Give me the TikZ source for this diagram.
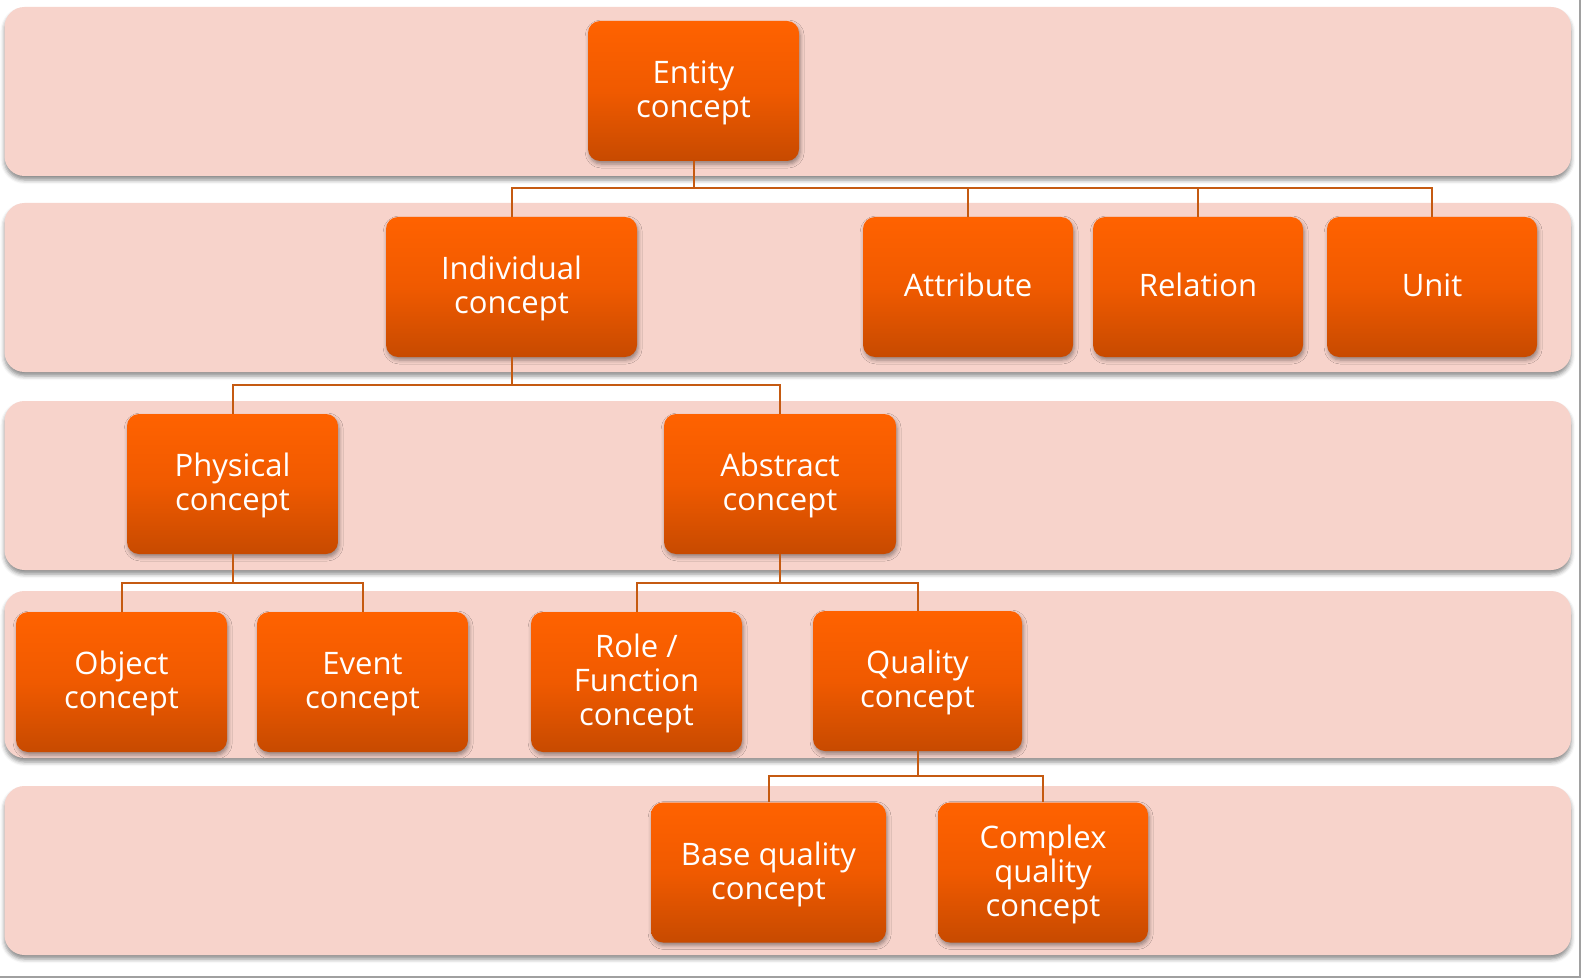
\documentclass[tikz,border=0pt]{standalone}
\usepackage{fontspec}
\setmainfont{Open Sans}
\usetikzlibrary{shadows.blur}
\definecolor{bandfill}{RGB}{247,211,203}
\definecolor{boxtop}{RGB}{255,98,0}
\definecolor{boxmid}{RGB}{240,90,0}
\definecolor{boxbot}{RGB}{199,74,0}
\definecolor{conncol}{RGB}{197,90,17}
\definecolor{framegray}{RGB}{160,160,160}
\newcommand\boxtxt[1]{\raisebox{-1.5pt}[\height][\depth]{\begin{tabular}{@{}c@{}}#1\end{tabular}}}
\tikzset{
  band/.style={rounded corners=10pt, fill=bandfill, draw=none, inner sep=0pt,
    minimum width=783.25pt, minimum height=84.5pt,
    blur shadow={shadow xshift=0pt, shadow yshift=-2pt, shadow opacity=45, shadow blur radius=2pt}},
  cbox/.style={rounded corners=6pt, minimum width=105pt, minimum height=70pt, inner sep=0pt,
    text=white, font=\fontsize{15.5}{17}\selectfont,
    top color=boxtop, bottom color=boxbot, middle color=boxmid,
    blur shadow={shadow xshift=0.6pt, shadow yshift=-1.5pt, shadow opacity=40, shadow blur radius=2pt}},
  conn/.style={draw=conncol, line width=1pt},
}
\begin{document}
\begin{tikzpicture}[x=0.5pt,y=-0.5pt]
\useasboundingbox (0,0) rectangle (1581,979);
% bands
\node[band] (b1) at (787.75,91.5) {};
\node[band] (b2) at (787.75,287.5) {};
\node[band] (b3) at (787.75,485.5) {};
\node[band, minimum height=83.5pt] (b4) at (787.75,674.5) {};
\node[band] (b5) at (787.75,870.5) {};
% bus levels
\coordinate (bus1) at (0,188.5);
\coordinate (bus2) at (0,385);
\coordinate (bus3) at (0,583);
\coordinate (bus4) at (0,776);
% boxes
\node[cbox, minimum width=105.5pt] (entity) at (693.5,91) {\boxtxt{Entity\\concept}};
\node[cbox, minimum width=125.5pt] (indiv) at (511.5,287) {\boxtxt{Individual\\concept}};
\node[cbox] (attr) at (968,287) {\boxtxt{Attribute}};
\node[cbox] (rel) at (1198,287) {\boxtxt{Relation}};
\node[cbox] (unit) at (1432,287) {\boxtxt{Unit}};
\node[cbox, minimum width=105.5pt] (phys) at (232.5,484) {\boxtxt{Physical\\concept}};
\node[cbox, minimum width=116pt] (abs) at (780,484) {\boxtxt{Abstract\\concept}};
\node[cbox, minimum width=105.5pt] (obj) at (121.5,682) {\boxtxt{Object\\concept}};
\node[cbox, minimum width=105.5pt] (event) at (362.5,682) {\boxtxt{Event\\concept}};
\node[cbox, minimum width=105.5pt] (role) at (636.5,682) {\boxtxt{Role /\\Function\\concept}};
\node[cbox, minimum width=104.5pt] (qual) at (917.5,681) {\boxtxt{Quality\\concept}};
\node[cbox, minimum width=117.5pt] (base) at (768.5,872.5) {\boxtxt{Base quality\\concept}};
\node[cbox] (complex) at (1043,872.5) {\boxtxt{Complex\\quality\\concept}};
% connectors
\draw[conn] (entity.south) -- (entity.south |- bus1) -| (indiv.north);
\draw[conn] (entity.south |- bus1) -| (attr.north);
\draw[conn] (entity.south |- bus1) -| (rel.north);
\draw[conn] (entity.south |- bus1) -| (unit.north);
\draw[conn] (indiv.south) -- (indiv.south |- bus2) -| (phys.north);
\draw[conn] (indiv.south |- bus2) -| (abs.north);
\draw[conn] (phys.south) -- (phys.south |- bus3) -| (obj.north);
\draw[conn] (phys.south |- bus3) -| (event.north);
\draw[conn] (abs.south) -- (abs.south |- bus3) -| (role.north);
\draw[conn] (abs.south |- bus3) -| (qual.north);
\draw[conn] (qual.south) -- (qual.south |- bus4) -| (base.north);
\draw[conn] (qual.south |- bus4) -| (complex.north);
% frame lines
\coordinate (ftr) at (1579.5,0);
\coordinate (fbr) at (1579.5,977);
\coordinate (fbl) at (0,977);
\draw[framegray, line width=1pt] (ftr) -- (fbr) -- (fbl);
\end{tikzpicture}
\end{document}
